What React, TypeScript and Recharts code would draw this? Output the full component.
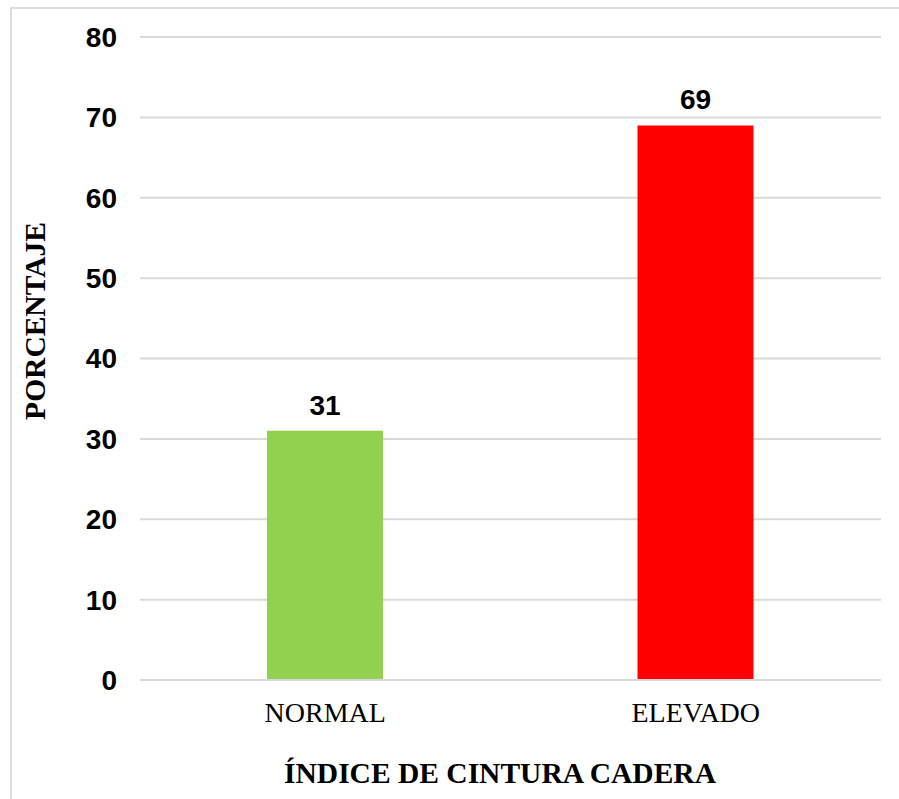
import { BarChart, Bar, XAxis, YAxis, CartesianGrid, Cell, LabelList, Label } from 'recharts';

// Índice de cintura-cadera: porcentaje por categoría
const categorias = ['NORMAL', 'ELEVADO'];
const porcentajes = [31, 69];
const colores = ['#92d050', '#ff0000'];
const ticksY = [0, 10, 20, 30, 40, 50, 60, 70, 80];

const datos = categorias.map((c, i) => ({ categoria: c, valor: porcentajes[i] }));

const SANS = '"Liberation Sans", Arial, sans-serif';
const SERIF = '"Liberation Serif", "Times New Roman", serif';

export default function App() {
  return (
    <div style={{ position: 'absolute', left: 0, top: 0, width: 899, height: 799, overflow: 'hidden', background: '#fff' }}>
      {/* marco del gráfico, se corta a la derecha y abajo */}
      <div
        style={{
          position: 'absolute',
          left: 10,
          top: 7,
          width: 900,
          height: 800,
          border: '2px solid #dedede',
          boxSizing: 'border-box',
        }}
      />
      <div style={{ position: 'absolute', left: 0, top: 0 }}>
        <BarChart
          width={899}
          height={799}
          data={datos}
          margin={{ top: 37, right: 18, bottom: 0, left: 0 }}
          barSize={116}
        >
          <CartesianGrid vertical={false} stroke="#d9d9d9" strokeWidth={2} />
          <XAxis
            dataKey="categoria"
            height={119}
            axisLine={{ stroke: '#d9d9d9', strokeWidth: 2 }}
            tickLine={false}
            tickSize={0}
            tickMargin={22}
            tick={{ fill: '#000', fontFamily: SERIF, fontSize: 28 }}
          >
            <Label
              content={() => (
                <text
                  x={500}
                  y={783}
                  textAnchor="middle"
                  fill="#000"
                  fontFamily={SERIF}
                  fontWeight="bold"
                  fontSize={29.5}
                >
                  ÍNDICE DE CINTURA CADERA
                </text>
              )}
            />
          </XAxis>
          <YAxis
            width={140}
            domain={[0, 80]}
            ticks={ticksY}
            axisLine={false}
            tickLine={false}
            tickSize={0}
            tickMargin={23}
            tick={{ fill: '#000', fontFamily: SANS, fontSize: 28, fontWeight: 'bold' }}
          >
            <Label
              content={() => (
                <text
                  x={45}
                  y={321}
                  transform="rotate(-90, 45, 321)"
                  textAnchor="middle"
                  fill="#000"
                  fontFamily={SERIF}
                  fontWeight="bold"
                  fontSize={29.5}
                >
                  PORCENTAJE
                </text>
              )}
            />
          </YAxis>
          <Bar dataKey="valor" isAnimationActive={false}>
            {datos.map((d, i) => (
              <Cell key={d.categoria} fill={colores[i]} />
            ))}
            <LabelList
              dataKey="valor"
              position="top"
              offset={16}
              fill="#000"
              fontFamily={SANS}
              fontSize={28}
              fontWeight="bold"
            />
          </Bar>
        </BarChart>
      </div>
    </div>
  );
}
